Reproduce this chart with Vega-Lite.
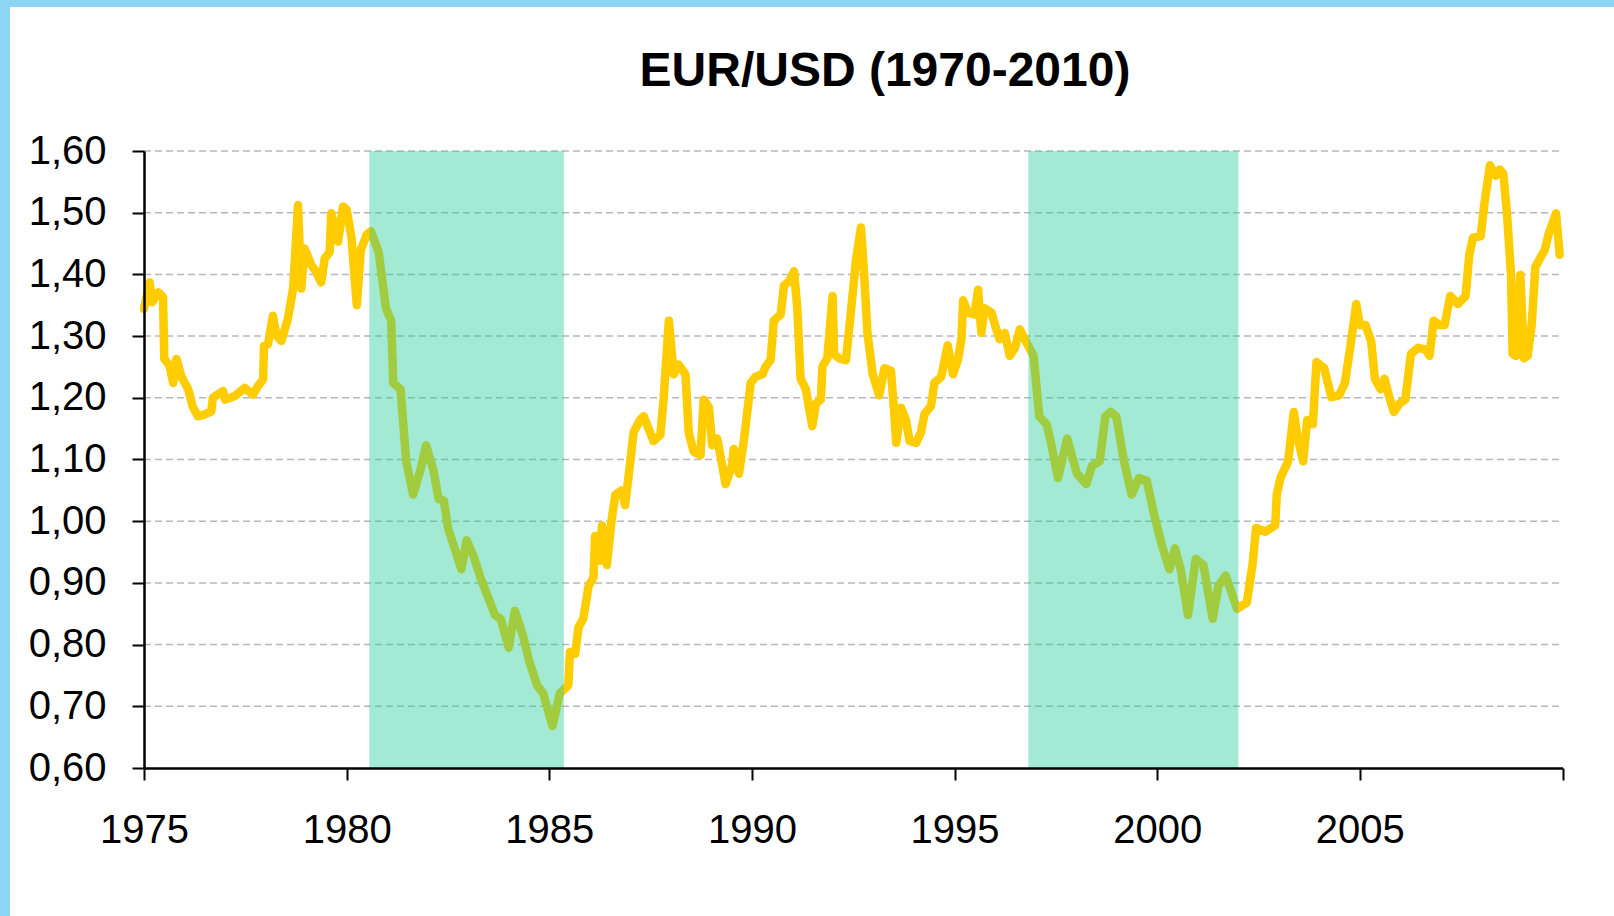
{
  "$schema": "https://vega.github.io/schema/vega-lite/v6.json",
  "width": 1604,
  "height": 909,
  "autosize": {"type": "none"},
  "padding": {"left": 10, "top": 7, "right": 0, "bottom": 0},
  "background": "#8dd5f5",
  "config": {
    "view": {"fill": "white", "stroke": null},
    "axis": {"grid": false}
  },
  "title": {
    "text": "EUR/USD (1970-2010)",
    "font": "Liberation Sans",
    "fontSize": 48,
    "fontWeight": "bold",
    "color": "black",
    "anchor": "middle",
    "frame": "group",
    "offset": 0,
    "baseline": "alphabetic",
    "dx": 73,
    "dy": 127
  },
  "datasets": {
    "grid": [{"v": 0.7}, {"v": 0.8}, {"v": 0.9}, {"v": 1.0}, {"v": 1.1}, {"v": 1.2}, {"v": 1.3}, {"v": 1.4}, {"v": 1.5}, {"v": 1.6}],
    "bands": [{"start": 1980.56, "end": 1985.36}, {"start": 1996.82, "end": 2002.0}],
    "fx": [
      {"t": 1975.00, "v": 1.344}, {"t": 1975.14, "v": 1.387}, {"t": 1975.20, "v": 1.355}, {"t": 1975.35, "v": 1.371},
      {"t": 1975.47, "v": 1.363}, {"t": 1975.50, "v": 1.263}, {"t": 1975.63, "v": 1.252}, {"t": 1975.72, "v": 1.224},
      {"t": 1975.80, "v": 1.263}, {"t": 1975.92, "v": 1.235}, {"t": 1976.09, "v": 1.214}, {"t": 1976.20, "v": 1.186},
      {"t": 1976.33, "v": 1.170}, {"t": 1976.50, "v": 1.173}, {"t": 1976.66, "v": 1.178}, {"t": 1976.70, "v": 1.200},
      {"t": 1976.95, "v": 1.211}, {"t": 1977.00, "v": 1.197}, {"t": 1977.24, "v": 1.203}, {"t": 1977.48, "v": 1.216},
      {"t": 1977.69, "v": 1.205}, {"t": 1977.81, "v": 1.219}, {"t": 1977.94, "v": 1.230}, {"t": 1977.96, "v": 1.284},
      {"t": 1978.06, "v": 1.287}, {"t": 1978.18, "v": 1.333}, {"t": 1978.27, "v": 1.301}, {"t": 1978.39, "v": 1.292},
      {"t": 1978.55, "v": 1.328}, {"t": 1978.68, "v": 1.377}, {"t": 1978.80, "v": 1.512}, {"t": 1978.88, "v": 1.377},
      {"t": 1978.96, "v": 1.442}, {"t": 1979.13, "v": 1.415}, {"t": 1979.25, "v": 1.404}, {"t": 1979.37, "v": 1.387},
      {"t": 1979.46, "v": 1.426}, {"t": 1979.58, "v": 1.436}, {"t": 1979.62, "v": 1.499}, {"t": 1979.79, "v": 1.453},
      {"t": 1979.91, "v": 1.510}, {"t": 1980.00, "v": 1.505}, {"t": 1980.12, "v": 1.460}, {"t": 1980.25, "v": 1.350},
      {"t": 1980.35, "v": 1.440}, {"t": 1980.50, "v": 1.465}, {"t": 1980.60, "v": 1.470}, {"t": 1980.79, "v": 1.436},
      {"t": 1980.97, "v": 1.345}, {"t": 1981.10, "v": 1.325}, {"t": 1981.15, "v": 1.224}, {"t": 1981.33, "v": 1.214},
      {"t": 1981.47, "v": 1.097}, {"t": 1981.64, "v": 1.043}, {"t": 1981.82, "v": 1.083}, {"t": 1981.96, "v": 1.123},
      {"t": 1982.14, "v": 1.083}, {"t": 1982.27, "v": 1.036}, {"t": 1982.40, "v": 1.033}, {"t": 1982.50, "v": 0.989},
      {"t": 1982.70, "v": 0.949}, {"t": 1982.83, "v": 0.922}, {"t": 1982.96, "v": 0.969}, {"t": 1983.14, "v": 0.942},
      {"t": 1983.30, "v": 0.909}, {"t": 1983.50, "v": 0.875}, {"t": 1983.66, "v": 0.848}, {"t": 1983.80, "v": 0.842},
      {"t": 1984.00, "v": 0.795}, {"t": 1984.15, "v": 0.855}, {"t": 1984.35, "v": 0.815}, {"t": 1984.50, "v": 0.774},
      {"t": 1984.70, "v": 0.734}, {"t": 1984.85, "v": 0.721}, {"t": 1985.08, "v": 0.668}, {"t": 1985.26, "v": 0.721},
      {"t": 1985.47, "v": 0.734}, {"t": 1985.51, "v": 0.788}, {"t": 1985.64, "v": 0.785}, {"t": 1985.72, "v": 0.828},
      {"t": 1985.84, "v": 0.842}, {"t": 1985.97, "v": 0.895}, {"t": 1986.09, "v": 0.909}, {"t": 1986.13, "v": 0.976},
      {"t": 1986.25, "v": 0.936}, {"t": 1986.30, "v": 0.993}, {"t": 1986.42, "v": 0.929}, {"t": 1986.54, "v": 1.003},
      {"t": 1986.63, "v": 1.043}, {"t": 1986.79, "v": 1.050}, {"t": 1986.87, "v": 1.026}, {"t": 1987.00, "v": 1.097},
      {"t": 1987.08, "v": 1.144}, {"t": 1987.24, "v": 1.164}, {"t": 1987.33, "v": 1.170}, {"t": 1987.45, "v": 1.150},
      {"t": 1987.57, "v": 1.130}, {"t": 1987.74, "v": 1.140}, {"t": 1987.82, "v": 1.197}, {"t": 1987.95, "v": 1.325},
      {"t": 1988.07, "v": 1.238}, {"t": 1988.19, "v": 1.254}, {"t": 1988.36, "v": 1.238}, {"t": 1988.44, "v": 1.144},
      {"t": 1988.56, "v": 1.113}, {"t": 1988.73, "v": 1.107}, {"t": 1988.81, "v": 1.197}, {"t": 1988.94, "v": 1.184},
      {"t": 1989.02, "v": 1.123}, {"t": 1989.14, "v": 1.134}, {"t": 1989.27, "v": 1.090}, {"t": 1989.35, "v": 1.060},
      {"t": 1989.51, "v": 1.090}, {"t": 1989.55, "v": 1.117}, {"t": 1989.68, "v": 1.077}, {"t": 1989.80, "v": 1.130},
      {"t": 1989.97, "v": 1.224}, {"t": 1990.09, "v": 1.234}, {"t": 1990.26, "v": 1.238}, {"t": 1990.34, "v": 1.251},
      {"t": 1990.46, "v": 1.261}, {"t": 1990.54, "v": 1.325}, {"t": 1990.71, "v": 1.335}, {"t": 1990.79, "v": 1.382},
      {"t": 1990.92, "v": 1.389}, {"t": 1991.04, "v": 1.405}, {"t": 1991.12, "v": 1.345}, {"t": 1991.20, "v": 1.231},
      {"t": 1991.33, "v": 1.214}, {"t": 1991.49, "v": 1.154}, {"t": 1991.58, "v": 1.191}, {"t": 1991.70, "v": 1.197},
      {"t": 1991.74, "v": 1.251}, {"t": 1991.86, "v": 1.264}, {"t": 1991.99, "v": 1.365}, {"t": 1992.03, "v": 1.271},
      {"t": 1992.15, "v": 1.264}, {"t": 1992.32, "v": 1.261}, {"t": 1992.44, "v": 1.338}, {"t": 1992.57, "v": 1.425},
      {"t": 1992.69, "v": 1.476}, {"t": 1992.77, "v": 1.399}, {"t": 1992.85, "v": 1.305}, {"t": 1992.98, "v": 1.238},
      {"t": 1993.14, "v": 1.204}, {"t": 1993.27, "v": 1.248}, {"t": 1993.43, "v": 1.244}, {"t": 1993.51, "v": 1.177},
      {"t": 1993.56, "v": 1.127}, {"t": 1993.68, "v": 1.184}, {"t": 1993.80, "v": 1.164}, {"t": 1993.89, "v": 1.130},
      {"t": 1994.05, "v": 1.127}, {"t": 1994.17, "v": 1.144}, {"t": 1994.26, "v": 1.174}, {"t": 1994.42, "v": 1.187},
      {"t": 1994.50, "v": 1.224}, {"t": 1994.67, "v": 1.234}, {"t": 1994.83, "v": 1.285}, {"t": 1994.96, "v": 1.238},
      {"t": 1995.08, "v": 1.261}, {"t": 1995.17, "v": 1.295}, {"t": 1995.21, "v": 1.358}, {"t": 1995.33, "v": 1.338},
      {"t": 1995.49, "v": 1.335}, {"t": 1995.58, "v": 1.375}, {"t": 1995.66, "v": 1.305}, {"t": 1995.74, "v": 1.345},
      {"t": 1995.91, "v": 1.338}, {"t": 1996.03, "v": 1.311}, {"t": 1996.11, "v": 1.295}, {"t": 1996.24, "v": 1.305},
      {"t": 1996.36, "v": 1.268}, {"t": 1996.49, "v": 1.281}, {"t": 1996.61, "v": 1.311}, {"t": 1996.81, "v": 1.285},
      {"t": 1996.95, "v": 1.268}, {"t": 1997.09, "v": 1.170}, {"t": 1997.27, "v": 1.157}, {"t": 1997.37, "v": 1.130},
      {"t": 1997.55, "v": 1.070}, {"t": 1997.78, "v": 1.134}, {"t": 1998.02, "v": 1.077}, {"t": 1998.25, "v": 1.060},
      {"t": 1998.39, "v": 1.090}, {"t": 1998.58, "v": 1.097}, {"t": 1998.72, "v": 1.170}, {"t": 1998.85, "v": 1.177},
      {"t": 1998.99, "v": 1.170}, {"t": 1999.18, "v": 1.097}, {"t": 1999.37, "v": 1.043}, {"t": 1999.55, "v": 1.070},
      {"t": 1999.74, "v": 1.066}, {"t": 1999.93, "v": 1.009}, {"t": 2000.11, "v": 0.962}, {"t": 2000.30, "v": 0.922},
      {"t": 2000.44, "v": 0.956}, {"t": 2000.58, "v": 0.922}, {"t": 2000.76, "v": 0.848}, {"t": 2000.95, "v": 0.939},
      {"t": 2001.14, "v": 0.929}, {"t": 2001.37, "v": 0.842}, {"t": 2001.51, "v": 0.895}, {"t": 2001.69, "v": 0.912},
      {"t": 2001.97, "v": 0.858}, {"t": 2002.21, "v": 0.868}, {"t": 2002.35, "v": 0.929}, {"t": 2002.44, "v": 0.989},
      {"t": 2002.67, "v": 0.983}, {"t": 2002.91, "v": 0.993}, {"t": 2002.95, "v": 1.043}, {"t": 2003.04, "v": 1.070},
      {"t": 2003.23, "v": 1.097}, {"t": 2003.37, "v": 1.177}, {"t": 2003.46, "v": 1.137}, {"t": 2003.60, "v": 1.097},
      {"t": 2003.70, "v": 1.164}, {"t": 2003.84, "v": 1.157}, {"t": 2003.93, "v": 1.258}, {"t": 2004.12, "v": 1.248},
      {"t": 2004.30, "v": 1.201}, {"t": 2004.49, "v": 1.204}, {"t": 2004.63, "v": 1.224}, {"t": 2004.77, "v": 1.285},
      {"t": 2004.91, "v": 1.352}, {"t": 2005.00, "v": 1.318}, {"t": 2005.14, "v": 1.318}, {"t": 2005.28, "v": 1.291},
      {"t": 2005.37, "v": 1.231}, {"t": 2005.51, "v": 1.214}, {"t": 2005.61, "v": 1.231}, {"t": 2005.70, "v": 1.207},
      {"t": 2005.84, "v": 1.177}, {"t": 2005.98, "v": 1.191}, {"t": 2006.12, "v": 1.197}, {"t": 2006.26, "v": 1.271},
      {"t": 2006.44, "v": 1.281}, {"t": 2006.63, "v": 1.278}, {"t": 2006.72, "v": 1.268}, {"t": 2006.82, "v": 1.325},
      {"t": 2006.96, "v": 1.318}, {"t": 2007.09, "v": 1.318}, {"t": 2007.23, "v": 1.365}, {"t": 2007.42, "v": 1.352},
      {"t": 2007.61, "v": 1.365}, {"t": 2007.70, "v": 1.432}, {"t": 2007.79, "v": 1.459}, {"t": 2007.98, "v": 1.462},
      {"t": 2008.07, "v": 1.513}, {"t": 2008.21, "v": 1.577}, {"t": 2008.35, "v": 1.560}, {"t": 2008.45, "v": 1.570},
      {"t": 2008.54, "v": 1.563}, {"t": 2008.63, "v": 1.499}, {"t": 2008.73, "v": 1.399}, {"t": 2008.77, "v": 1.271},
      {"t": 2008.86, "v": 1.268}, {"t": 2008.96, "v": 1.399}, {"t": 2009.05, "v": 1.264}, {"t": 2009.14, "v": 1.268},
      {"t": 2009.24, "v": 1.318}, {"t": 2009.33, "v": 1.412}, {"t": 2009.47, "v": 1.429}, {"t": 2009.56, "v": 1.439},
      {"t": 2009.66, "v": 1.466}, {"t": 2009.84, "v": 1.499}, {"t": 2009.93, "v": 1.432}
    ]
  },
  "layer": [
    {
      "data": {"name": "grid"},
      "mark": {"type": "rule", "color": "#b8b8b8", "strokeWidth": 1.5, "strokeDash": [7, 4]},
      "encoding": {
        "y": {"field": "v", "type": "quantitative", "title": null},
        "x": {"datum": 1975, "type": "quantitative"},
        "x2": {"datum": 2010}
      }
    },
    {
      "data": {"name": "fx"},
      "mark": {"type": "line", "color": "#FFCC00", "strokeWidth": 8.5, "strokeJoin": "round", "strokeCap": "round"},
      "encoding": {
        "x": {
          "field": "t", "type": "quantitative", "title": null,
          "scale": {"domain": [1975, 2010], "range": [134, 1552.5], "nice": false, "zero": false},
          "axis": {
            "orient": "bottom", "offset": -148, "zindex": 1,
            "values": [1975, 1980, 1985, 1990, 1995, 2000, 2005, 2010],
            "labelExpr": "datum.value == 2010 ? '' : datum.label",
            "format": "d",
            "domainColor": "black", "domainWidth": 2.5,
            "tickColor": "black", "tickWidth": 2, "tickSize": 12,
            "labelFont": "Liberation Sans", "labelFontSize": 40, "labelColor": "black",
            "labelPadding": 30, "labelFlush": false, "labelOverlap": false
          }
        },
        "y": {
          "field": "v", "type": "quantitative", "title": null,
          "scale": {"domain": [0.6, 1.6], "range": [761, 144], "nice": false, "zero": false},
          "axis": {
            "orient": "left", "offset": -134, "zindex": 1,
            "values": [0.6, 0.7, 0.8, 0.9, 1.0, 1.1, 1.2, 1.3, 1.4, 1.5, 1.6],
            "labelExpr": "replace(format(datum.value, '.2f'), '.', ',')",
            "domainColor": "black", "domainWidth": 2.5,
            "tickColor": "black", "tickWidth": 2, "tickSize": 12,
            "labelFont": "Liberation Sans", "labelFontSize": 40, "labelColor": "black",
            "labelPadding": 26, "labelFlush": false, "labelOverlap": false
          }
        }
      }
    },
    {
      "data": {"name": "bands"},
      "mark": {"type": "rect", "color": "#22cc99", "opacity": 0.42},
      "encoding": {
        "x": {"field": "start", "type": "quantitative", "title": null},
        "x2": {"field": "end"},
        "y": {"datum": 0.6, "type": "quantitative"},
        "y2": {"datum": 1.6}
      }
    }
  ]
}
